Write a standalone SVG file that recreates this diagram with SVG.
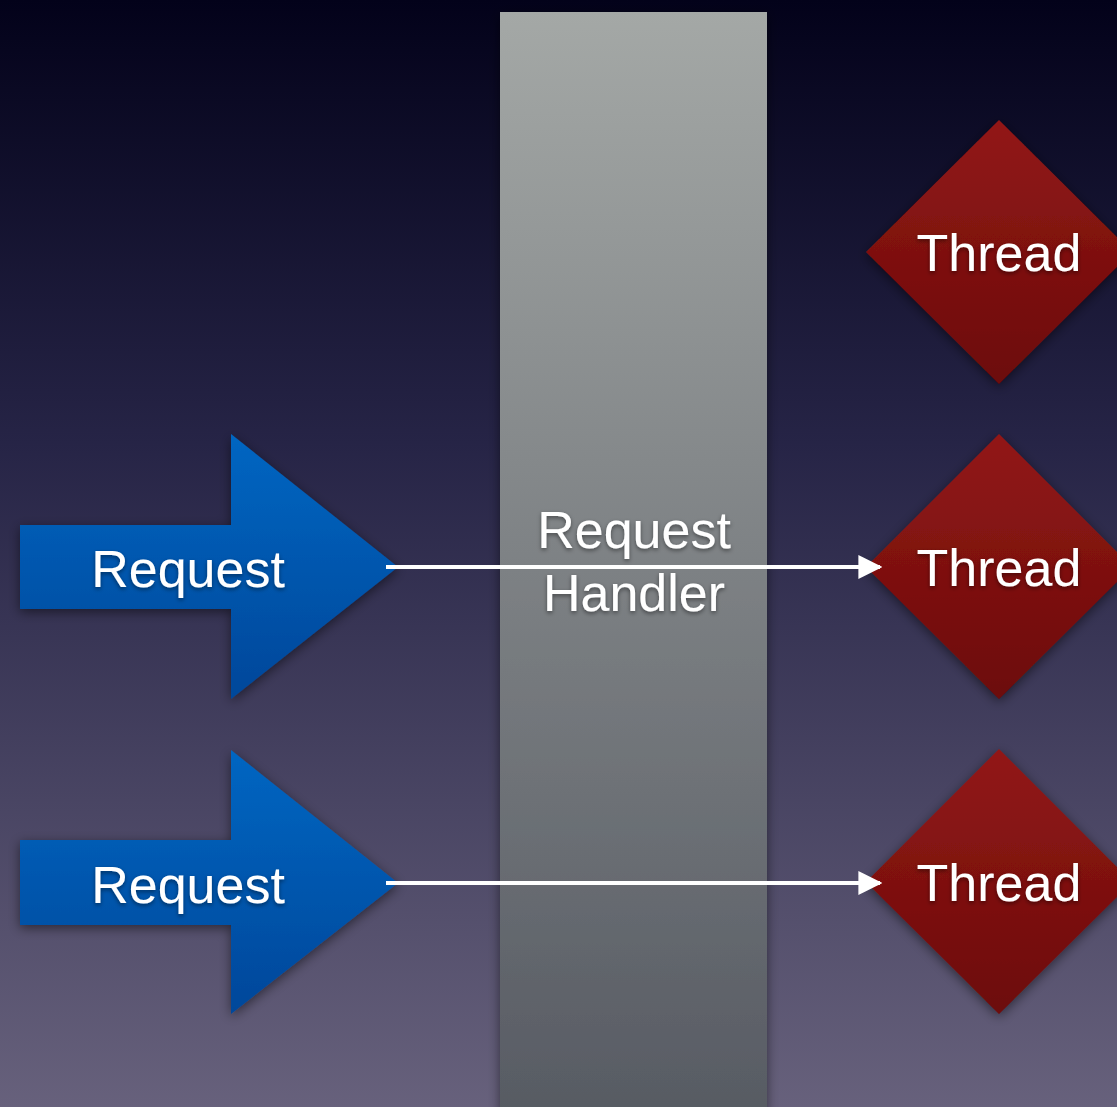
<svg xmlns="http://www.w3.org/2000/svg" width="1117" height="1107" viewBox="0 0 1117 1107">
<defs>
<linearGradient id="bg" x1="0" y1="0" x2="0" y2="1"><stop offset="0" stop-color="#03021a"/><stop offset="0.4" stop-color="#262446"/><stop offset="1" stop-color="#67617c"/></linearGradient>
<linearGradient id="col" x1="0" y1="0" x2="0" y2="1"><stop offset="0" stop-color="#a4a8a6"/><stop offset="1" stop-color="#575b63"/></linearGradient>
<linearGradient id="blue" x1="0" y1="0" x2="0" y2="1"><stop offset="0" stop-color="#0166c2"/><stop offset="1" stop-color="#04479a"/></linearGradient>
<linearGradient id="red" x1="0" y1="0" x2="0" y2="1"><stop offset="0" stop-color="#921818"/><stop offset="1" stop-color="#6c0a07"/></linearGradient>
<filter id="sh" x="-20%" y="-20%" width="140%" height="140%"><feDropShadow dx="0" dy="3" stdDeviation="6" flood-color="#000" flood-opacity="0.5"/></filter>
<filter id="tsh" x="-10%" y="-20%" width="120%" height="150%"><feDropShadow dx="0" dy="2" stdDeviation="2" flood-color="#000" flood-opacity="0.45"/></filter>
<marker id="ah" viewBox="0 0 10 10" refX="9" refY="5" markerWidth="6" markerHeight="6" markerUnits="strokeWidth" orient="auto"><path d="M0,0 L10,5 L0,10 z" fill="#ffffff"/></marker>
</defs>
<style>
text{font-family:"Liberation Sans",Arial,sans-serif;font-size:52px;fill:#ffffff;text-anchor:middle;filter:url(#tsh)}
.conn{stroke:#ffffff;stroke-width:4;fill:none}
</style>
<rect width="1117" height="1107" fill="url(#bg)"/>
<g id="handler">
<rect x="500" y="12" width="267" height="1100" fill="url(#col)" filter="url(#sh)"/>
</g>
<g id="request1">
<path d="M20,525 H231 V434 L398,567 L231,699 V609 H20 Z" fill="url(#blue)" filter="url(#sh)"/>
<text x="188" y="587">Request</text>
</g>
<g id="request2">
<path d="M20,840 H231 V750 L398,883 L231,1014 V925 H20 Z" fill="url(#blue)" filter="url(#sh)"/>
<text x="188" y="903">Request</text>
</g>
<g id="thread1">
<path d="M999,120 L1132,252 L999,384 L866,252 Z" fill="url(#red)" filter="url(#sh)"/>
<text x="999" y="271">Thread</text>
</g>
<g id="thread2">
<path d="M999,434 L1132,567 L999,699 L866,567 Z" fill="url(#red)" filter="url(#sh)"/>
<text x="999" y="586">Thread</text>
</g>
<g id="thread3">
<path d="M999,749 L1132,882 L999,1014 L866,882 Z" fill="url(#red)" filter="url(#sh)"/>
<text x="999" y="901">Thread</text>
</g>
<g id="connectors">
<line class="conn" x1="386" y1="567" x2="880" y2="567" marker-end="url(#ah)"/>
<line class="conn" x1="386" y1="883" x2="880" y2="883" marker-end="url(#ah)"/>
</g>
<g id="handler-label">
<text x="634" y="548">Request</text>
<text x="634" y="611">Handler</text>
</g>
</svg>
